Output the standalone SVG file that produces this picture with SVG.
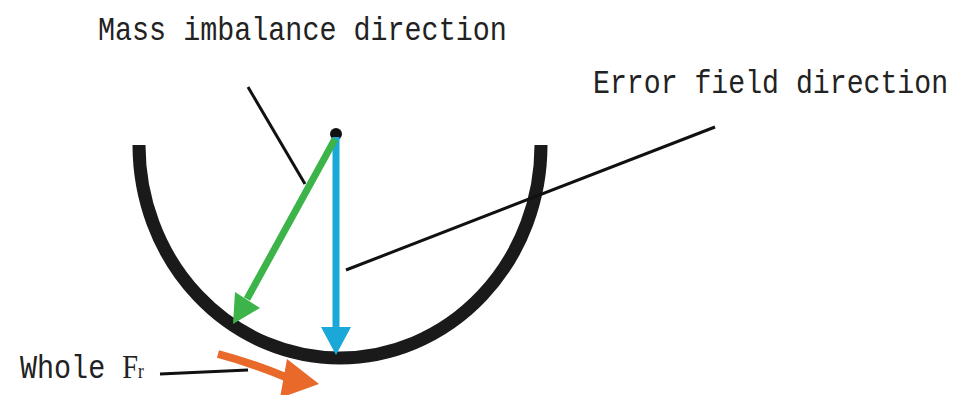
<svg xmlns="http://www.w3.org/2000/svg" width="954" height="395" viewBox="0 0 954 395">
<style>
.lbl{font-family:"Liberation Mono","DejaVu Sans Mono",monospace;font-size:34px;fill:#222}
.lead{stroke:#111;stroke-width:3;fill:none}
</style>
<rect width="954" height="395" fill="#fff"/>
<g id="bowl">
<path d="M139,145 A201,213 0 0 0 541,145" fill="none" stroke="#1a1a1a" stroke-width="13"/>
</g>
<g id="pivot"><circle cx="336" cy="134" r="6" fill="#111"/></g>
<g id="connectors">
<line class="lead" x1="248" y1="87" x2="305" y2="184"/>
<line class="lead" x1="715" y1="127" x2="346" y2="270"/>
<line class="lead" x1="160" y1="374" x2="248" y2="370"/>
<line x1="336" y1="137" x2="336" y2="330" stroke="#1aa8d8" stroke-width="7"/>
<polygon points="321,327 351,327 336,355" fill="#1aa8d8"/>
<line x1="335" y1="139" x2="247" y2="299" stroke="#3cb44a" stroke-width="7"/>
<polygon points="235,292 260,308 233,324" fill="#3cb44a"/>
<path d="M218,354 Q252,363 288,378" fill="none" stroke="#e8692a" stroke-width="8"/>
<polygon points="287,359 319,384 280,398" fill="#e8692a"/>
</g>
<g id="label-mass"><text class="lbl" transform="translate(98,40) scale(0.835,1)">Mass imbalance direction</text></g>
<g id="label-error"><text class="lbl" transform="translate(593,93) scale(0.829,1)">Error field direction</text></g>
<g id="label-whole"><text class="lbl" transform="translate(20,378) scale(0.835,1)">Whole <tspan style="font-family:'Liberation Serif',serif;font-size:34px">F</tspan><tspan style="font-family:'Liberation Serif',serif;font-size:21px">r</tspan></text></g>
</svg>
